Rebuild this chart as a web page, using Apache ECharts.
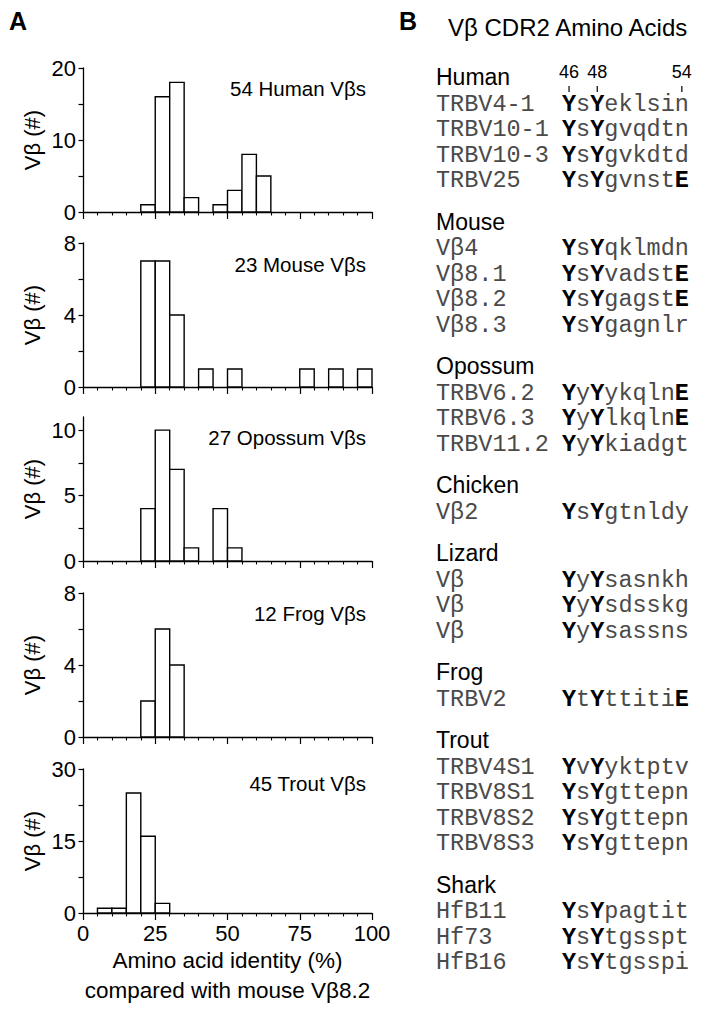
<!DOCTYPE html>
<html>
<head>
<meta charset="utf-8">
<script src="https://cdn.jsdelivr.net/npm/echarts@6/dist/echarts.min.js"></script>
<style>
  html, body { margin: 0; padding: 0; background: #fff; }
  #main { width: 701px; height: 1011px; }
</style>
</head>
<body>
<div id="main"></div>
<script>
// 5% wide bins of amino acid identity
var binStart = [0, 5, 10, 15, 20, 25, 30, 35, 40, 45, 50, 55, 60, 65, 70, 75, 80, 85, 90, 95];
var binWidth = 5;
var humanCounts   = [0, 0, 0, 0, 1, 16, 18, 2, 0, 1, 3, 8, 5, 0, 0, 0, 0, 0, 0, 0];
var mouseCounts   = [0, 0, 0, 0, 7, 7, 4, 0, 1, 0, 1, 0, 0, 0, 0, 1, 0, 1, 0, 1];
var opossumCounts = [0, 0, 0, 0, 4, 10, 7, 1, 0, 4, 1, 0, 0, 0, 0, 0, 0, 0, 0, 0];
var frogCounts    = [0, 0, 0, 0, 2, 6, 4, 0, 0, 0, 0, 0, 0, 0, 0, 0, 0, 0, 0, 0];
var troutCounts   = [0, 1, 1, 25, 16, 2, 0, 0, 0, 0, 0, 0, 0, 0, 0, 0, 0, 0, 0, 0];

var panelTitles = ['54 Human Vβs', '23 Mouse Vβs', '27 Opossum Vβs', '12 Frog Vβs', '45 Trout Vβs'];
var yMax = [20, 8, 11, 8, 30];
var yLabelValues = [[0, 10, 20], [0, 4, 8], [0, 5, 10], [0, 4, 8], [0, 15, 30]];
var yTickValues = [[0, 5, 10, 15, 20], [0, 2, 4, 6, 8], [0, 2.5, 5, 7.5, 10], [0, 2, 4, 6, 8], [0, 7.5, 15, 22.5, 30]];
var xTickLabels = [0, 25, 50, 75, 100];

// panel B: CDR2 sequences (capitals are drawn bold)
var speciesNames = ['Human', 'Mouse', 'Opossum', 'Chicken', 'Lizard', 'Frog', 'Trout', 'Shark'];
var geneNames = [
  ['TRBV4-1', 'TRBV10-1', 'TRBV10-3', 'TRBV25'],
  ['Vβ4', 'Vβ8.1', 'Vβ8.2', 'Vβ8.3'],
  ['TRBV6.2', 'TRBV6.3', 'TRBV11.2'],
  ['Vβ2'],
  ['Vβ', 'Vβ', 'Vβ'],
  ['TRBV2'],
  ['TRBV4S1', 'TRBV8S1', 'TRBV8S2', 'TRBV8S3'],
  ['HfB11', 'Hf73', 'HfB16']
];
var cdr2Seqs = [
  ['YsYeklsin', 'YsYgvqdtn', 'YsYgvkdtd', 'YsYgvnstE'],
  ['YsYqklmdn', 'YsYvadstE', 'YsYgagstE', 'YsYgagnlr'],
  ['YyYykqlnE', 'YyYlkqlnE', 'YyYkiadgt'],
  ['YsYgtnldy'],
  ['YyYsasnkh', 'YyYsdsskg', 'YyYsassns'],
  ['YtYttitiE'],
  ['YvYyktptv', 'YsYgttepn', 'YsYgttepn', 'YsYgttepn'],
  ['YsYpagtit', 'YsYtgsspt', 'YsYtgsspi']
];
var residueMarks = [46, 48, 54];
var firstResidue = 46;

var chart = echarts.init(document.getElementById('main'), null, { renderer: 'svg' });

var sans = 'Liberation Sans, Arial, sans-serif';
var mono = 'Liberation Mono, Courier New, monospace';
var allCounts = [humanCounts, mouseCounts, opossumCounts, frogCounts, troutCounts];
var gridTop = [68, 243, 417, 593, 769];
var gridH = 144;
var gridLeft = 83;
var gridW = 289;
var titleDy = [20, 21, 20, 20, 14];

var grids = [], xAxes = [], yAxes = [], series = [], graphics = [];

allCounts.forEach(function (counts, i) {
  var last = i === allCounts.length - 1;
  grids.push({ left: gridLeft, top: gridTop[i], width: gridW, height: gridH });
  xAxes.push({
    type: 'value', gridIndex: i, min: 0, max: 100, interval: 25,
    axisLine: { show: true, onZero: false, lineStyle: { color: '#000', width: 1.3 } },
    axisTick: { show: true, length: 7, lineStyle: { color: '#000', width: 1.2 } },
    minorTick: { show: true, splitNumber: 5, length: 3.5, lineStyle: { color: '#000', width: 1.1 } },
    splitLine: { show: false },
    axisLabel: {
      show: last, color: '#000', fontSize: 22, fontFamily: sans, margin: 9,
      customValues: xTickLabels
    },
    name: last ? 'Amino acid identity (%)\ncompared with mouse Vβ8.2' : '',
    nameLocation: 'middle',
    nameGap: 32,
    nameTextStyle: { color: '#000', fontSize: 22.5, fontFamily: sans, lineHeight: 30, verticalAlign: 'top' }
  });
  yAxes.push({
    type: 'value', gridIndex: i, min: 0, max: yMax[i],
    axisLine: { show: true, lineStyle: { color: '#000', width: 1.3 } },
    axisTick: { show: true, length: 4.5, customValues: yTickValues[i], lineStyle: { color: '#000', width: 1.2 } },
    splitLine: { show: false },
    axisLabel: { color: '#000', fontSize: 22, fontFamily: sans, margin: 7, customValues: yLabelValues[i] },
    name: 'Vβ (#)',
    nameLocation: 'middle',
    nameRotate: 90,
    nameGap: 40,
    nameTextStyle: { color: '#000', fontSize: 22, fontFamily: sans }
  });
  var data = [];
  counts.forEach(function (c, k) {
    if (c > 0) data.push([binStart[k], c]);
  });
  series.push({
    type: 'custom', xAxisIndex: i, yAxisIndex: i, clip: false, data: data,
    renderItem: function (params, api) {
      var x0 = api.value(0);
      var n = api.value(1);
      var p0 = api.coord([x0, 0]);
      var p1 = api.coord([x0 + binWidth, n]);
      return {
        type: 'rect',
        shape: { x: p0[0], y: p1[1], width: p1[0] - p0[0], height: p0[1] - p1[1] },
        style: { fill: '#fff', stroke: '#000', lineWidth: 1.4 }
      };
    }
  });
  graphics.push({
    type: 'text', x: 366, y: gridTop[i] + titleDy[i],
    style: { text: panelTitles[i], font: '20.5px ' + sans, fill: '#000', align: 'right', verticalAlign: 'middle' }
  });
});

// panel letters and B heading
graphics.push({ type: 'text', x: 9, y: 21, style: { text: 'A', font: 'bold 25px ' + sans, fill: '#000', verticalAlign: 'middle' } });
graphics.push({ type: 'text', x: 399, y: 21, style: { text: 'B', font: 'bold 25px ' + sans, fill: '#000', verticalAlign: 'middle' } });
graphics.push({ type: 'text', x: 448, y: 27, style: { text: 'Vβ CDR2 Amino Acids', font: '24px ' + sans, fill: '#000', verticalAlign: 'middle' } });

// sequence list
var nameX = 436, seqX = 562, seqFont = 23.5, charW = seqFont * 0.6;
var headerToRow = 27, rowStep = 25.5, groupGap = 41;
var y = 77;

residueMarks.forEach(function (pos) {
  var cx = seqX + (pos - firstResidue + 0.5) * charW;
  graphics.push({ type: 'text', x: cx, y: 72, style: { text: String(pos), font: '18px ' + sans, fill: '#000', align: 'center', verticalAlign: 'middle' } });
  graphics.push({ type: 'line', shape: { x1: cx, y1: 86, x2: cx, y2: 92 }, style: { stroke: '#000', lineWidth: 1.2 } });
});

function seqRich(s) {
  var out = '';
  for (var k = 0; k < s.length; k++) {
    var ch = s.charAt(k);
    out += (ch >= 'A' && ch <= 'Z') ? '{b|' + ch + '}' : '{r|' + ch + '}';
  }
  return out;
}

speciesNames.forEach(function (sp, g) {
  graphics.push({ type: 'text', x: nameX, y: y, style: { text: sp, font: '23px ' + sans, fill: '#000', verticalAlign: 'middle' } });
  var ry = y + headerToRow;
  geneNames[g].forEach(function (gene, r) {
    graphics.push({ type: 'text', x: nameX, y: ry, style: { text: gene, font: seqFont + 'px ' + mono, fill: '#4a4a4a', verticalAlign: 'middle' } });
    graphics.push({
      type: 'text', x: seqX, y: ry,
      style: {
        text: seqRich(cdr2Seqs[g][r]), verticalAlign: 'middle',
        rich: {
          b: { fontFamily: mono, fontSize: seqFont, fontWeight: 'bold', fill: '#000', color: '#000' },
          r: { fontFamily: mono, fontSize: seqFont, fill: '#4a4a4a', color: '#4a4a4a' }
        }
      }
    });
    ry += rowStep;
  });
  y = ry - rowStep + groupGap;
});

var option = {
  animation: false,
  backgroundColor: '#fff',
  textStyle: { fontFamily: sans },
  grid: grids,
  xAxis: xAxes,
  yAxis: yAxes,
  series: series,
  graphic: graphics
};
chart.setOption(option);
</script>
</body>
</html>
